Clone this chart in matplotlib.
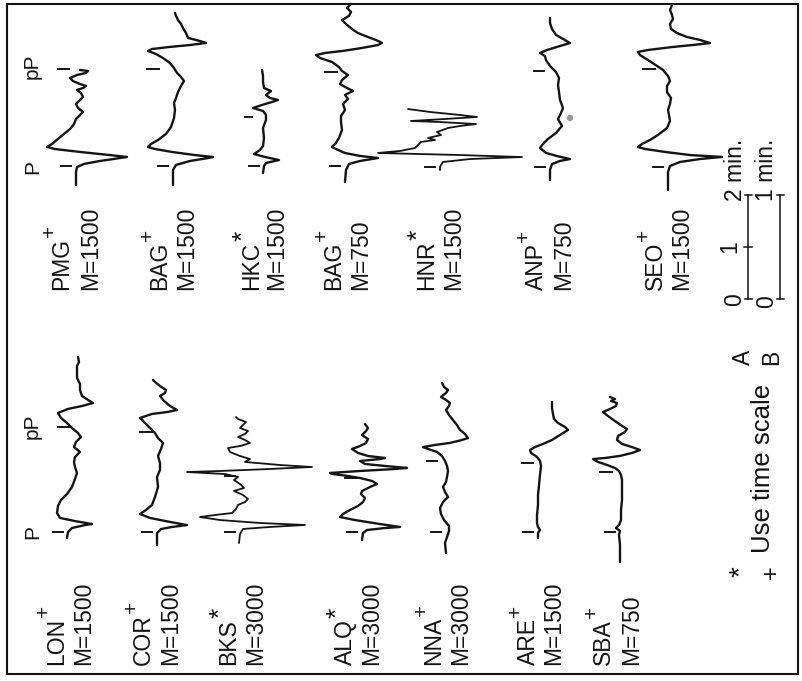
import matplotlib
matplotlib.use("Agg")
import matplotlib.pyplot as plt
from matplotlib.patches import Rectangle, Circle

# ---------------------------------------------------------------------------
# Station records: time after P onset (s) and trace deflection (arbitrary units)
# ---------------------------------------------------------------------------
PMG_T = [-11.0, -3.5, -0.6, 1.2, 2.9, 4.6, 5.2, 6.3, 8.1, 9.8, 11.0, 12.7, 15.6, 18.5, 21.3, 24.2,
         27.1, 29.4, 31.2, 33.5, 35.8, 38.1, 39.8, 42.1, 43.9, 45.0, 46.2, 47.3, 49.0, 50.8, 52.5,
         53.7, 54.8, 55.4]
PMG_A = [0, 0, 1, 8, 24, 44, 51, 34, 4, -21, -29, -24, -18, -12, -6, -2,
         0, 4, 7, 2, 0, 4, 7, 5, 1, 7, 10, 4, -3, -6, 1,
         10, 12, 4]

BAG1_T = [-11.0, -2.3, 0.6, 2.9, 4.6, 5.2, 6.3, 8.1, 9.8, 11.0, 12.7, 15.0, 18.5, 22.5, 27.7, 32.3,
          36.4, 39.2, 42.7, 46.2, 49.0, 51.4, 53.7, 56.5, 59.4, 62.3, 64.6, 66.4, 67.5, 68.7, 69.8,
          71.0, 72.1, 73.9, 76.7, 79.6, 81.9, 84.2, 86.6, 88.3]
BAG1_A = [0, 0, 3, 17, 35, 40, 22, -1, -18, -25, -22, -15, -7, -2, 1, 2,
          1, 3, 5, 8, 11, 8, 4, 1, -3, -10, -17, -25, -21, -3, 17,
          33, 27, 15, 13, 10, 8, 5, 3, 2]

HKC_T = [-8.1, 0.0, 3.5, 6.9, 10.4, 13.8, 18.5, 23.1, 32.3, 43.9, 53.1, 58.9, 63.5, 66.9, 70.4,
         73.9, 76.2, 78.5, 81.9, 86.5, 90.0, 96.9, 103.9, 110.8]
HKC_A = [-1, 0, 2, 15, 1, -10, -4, -1, 0, -1, 2, 2, -1, -11, -2,
         8, 14, 6, 2, 7, 0, -1, -1, -2]

BAG2_T = [-9.2, -2.3, 1.2, 2.9, 4.6, 5.8, 7.5, 9.8, 11.0, 13.3, 16.2, 20.8, 25.4, 28.9, 32.3,
          35.8, 38.7, 41.0, 43.3, 45.0, 47.3, 49.6, 52.5, 54.8, 57.1, 60.0, 62.3, 64.0, 65.2,
          66.4, 68.1, 69.8, 71.0, 72.7, 74.4, 76.7, 79.0, 81.9, 84.2, 86.6, 88.9, 91.2, 93.5]
BAG2_A = [0, 1, 4, 15, 33, 15, 0, -9, -13, -9, -6, -3, -4, -4, 0,
          -2, 3, 0, 8, 2, -5, -3, 3, -3, -6, -13, -25, -29, -20,
          -2, 17, 33, 37, 31, 23, 13, 7, 1, -3, 4, 6, 2, 6]

HNR_T = [-3.5, 0.0, 2.3, 5.8, 9.2, 11.5, 13.8, 16.2, 18.5, 21.9, 25.4, 28.9, 31.2, 33.5, 36.9,
         40.4, 45.0, 47.3, 49.6, 51.9, 53.1, 55.4, 57.7, 60.0, 63.5, 66.9]
HNR_A = [0, 0, 1, 3, 30, 82, 20, -62, -40, -25, -22, -19, -5, -12, 1,
         -3, 8, 20, 36, 0, -29, 5, 37, 20, -10, -32]

ANP_T = [-7.5, -1.7, 1.7, 3.5, 4.6, 6.3, 8.1, 11.0, 13.3, 16.2, 19.6, 23.7, 27.7, 31.2, 34.0,
         38.7, 43.3, 47.3, 51.4, 54.8, 58.3, 61.7, 64.0, 65.8, 67.5, 69.8, 71.5, 73.9, 76.2,
         79.6, 83.1, 86.0]
ANP_A = [0, 0, 2, 10, 20, 7, -4, -10, -7, -2, 6, 12, 8, 11, 13,
         10, 9, 8, 9, 6, 0, -4, -5, -10, -3, 10, 20, 13, 6,
         2, 0, 0]

SEO_T = [-13.3, -2.9, 0.6, 2.9, 4.6, 5.8, 6.9, 8.7, 10.4, 11.5, 13.3, 15.6, 18.5, 22.5, 26.5,
         30.0, 32.9, 36.4, 39.8, 43.3, 46.7, 49.6, 52.5, 56.0, 58.3, 61.7, 64.6, 66.4, 67.5,
         69.2, 70.4, 71.5, 73.3, 75.0, 77.3, 79.6, 82.5, 85.4, 87.7, 90.6, 93.5]
SEO_A = [0, 0, 2, 12, 32, 54, 22, -3, -23, -30, -26, -18, -10, -1, 2,
         1, 0, 2, 3, -1, -1, 2, 0, -5, -11, -20, -28, -30, -20,
         4, 25, 42, 32, 19, 9, 3, 2, 5, 4, 2, 4]

LON_T = [-3.5, 0.0, 2.3, 4.0, 4.6, 6.3, 8.1, 11.0, 15.0, 18.5, 21.9, 26.0, 30.6, 34.0, 37.5,
         40.4, 43.3, 46.2, 49.0, 51.9, 54.8, 57.1, 60.0, 62.9, 65.8, 68.7, 71.0, 72.7, 74.4,
         76.2, 78.5, 81.9, 85.4, 88.9, 92.3, 95.8, 98.1, 101.0]
LON_A = [-1, 0, 4, 17, 24, 7, -8, -11, -10, -7, -1, 4, 7, 9, 7,
         6, 7, 12, 6, 8, 13, 10, 4, -1, -7, -10, 0, 14, 25,
         20, 14, 12, 12, 9, 9, 9, 11, 10]

COR_T = [-7.5, -0.6, 1.7, 2.9, 4.0, 5.8, 8.1, 10.4, 12.7, 15.6, 20.2, 26.0, 31.7, 35.8, 39.8,
         43.9, 47.9, 51.4, 54.2, 57.1, 60.0, 62.9, 65.8, 68.1, 69.2, 70.4, 72.7, 75.6, 78.5,
         80.2, 81.9, 84.2, 86.6, 87.7]
COR_A = [0, 0, 4, 15, 30, 13, -7, -17, -11, -5, -2, 1, 0, 3, 3,
         1, 4, 6, 1, -2, -7, -12, -17, -5, 10, 20, 13, 7, 3,
         8, 9, 3, -2, -4]

BKS_T = [-12.7, -2.3, 3.5, 5.8, 8.1, 10.4, 13.8, 17.3, 19.6, 21.9, 26.5, 31.2, 34.6, 38.1, 42.7,
         47.3, 50.8, 55.4, 60.0, 63.5, 66.9, 69.2, 70.4, 72.7, 75.0, 77.3, 80.8, 84.2, 87.7,
         92.3, 96.9, 99.2, 102.7, 106.2, 109.6, 113.1, 116.5, 120.0, 123.5, 126.9, 130.4, 132.7]
BKS_A = [-1, 0, 3, 30, 65, 20, -20, -40, -25, -8, -4, -2, 5, 8, 3,
         -6, 4, 0, -6, -2, -15, -53, -20, 30, 72, 40, 5, 10, 0,
         -10, -12, 0, 10, 5, -2, 5, 8, 0, 3, 6, -2, -4]

ALQ_T = [-9.2, -1.2, 2.3, 4.6, 5.8, 9.2, 13.8, 17.3, 20.8, 25.4, 30.0, 34.6, 39.2, 43.9, 47.3,
         51.9, 55.4, 58.9, 62.3, 64.6, 66.9, 68.1, 70.4, 72.7, 73.9, 76.2, 78.5, 81.9, 84.2,
         85.4, 87.7, 91.2, 95.8, 99.2, 102.7, 107.3, 111.9, 116.5, 120.0, 124.6]
ALQ_A = [0, 1, 5, 23, 38, 18, -7, -22, -19, -12, -4, 1, 3, -1, 0,
         8, 15, 10, -2, -14, -29, -32, -2, 33, 45, 23, 3, -2, 18,
         23, 6, -4, -10, -2, 4, 6, 0, 4, 6, 3]

NNA_T = [-12.1, -6.3, -2.9, 0.6, 3.5, 6.9, 10.4, 13.8, 17.3, 20.2, 23.1, 26.0, 28.9, 31.7, 35.2,
         38.1, 41.0, 43.9, 46.2, 47.9, 49.0, 50.2, 51.4, 53.1, 54.2, 56.5, 58.9, 61.7, 64.6,
         67.5, 70.4, 72.7, 74.4, 76.2, 77.9, 80.2, 81.9, 83.7, 86.0]
NNA_A = [0, -1, 1, 3, 3, -2, -5, -6, -3, 2, -1, -3, 0, 1, 2,
         1, -1, -4, -9, -18, -23, -11, 4, 16, 22, 19, 14, 11, 7,
         3, 0, 3, 4, 0, -5, 0, 2, -2, -4]

ARE_T = [-3.5, -0.6, 1.2, 2.9, 5.2, 9.8, 15.6, 21.3, 27.1, 32.9, 38.1, 41.0, 43.3, 45.6, 47.3,
         49.0, 50.8, 53.1, 56.0, 58.9, 60.6, 62.9, 65.2, 68.1, 71.5, 75.0]
ARE_A = [0, 0, 2, 0, -1, -1, 0, 0, 1, 2, 3, 2, -1, -7, -8,
         -3, 5, 14, 22, 30, 27, 20, 16, 15, 14, 14]

SBA_T = [-17.3, -7.5, -1.7, 0.6, 2.3, 4.0, 6.9, 12.7, 18.5, 24.2, 30.0, 32.9, 35.2, 36.9, 38.7,
         40.4, 42.1, 42.7, 43.9, 45.6, 47.3, 49.0, 50.8, 53.1, 55.4, 57.7, 59.4, 61.2, 64.0,
         66.9, 69.2, 71.0, 72.7, 74.4, 75.6, 76.7, 77.9]
SBA_A = [0, 0, -1, 0, -4, -1, 1, 1, 2, 2, 2, 1, -1, -5, -13,
         -22, -27, -15, 0, 12, 20, 12, 2, -3, -2, 5, 7, 2, -5,
         -12, -17, -10, -4, -3, -9, -5, -10]

# station code, time-scale marker, magnification, pP pick (s after P, None if not marked)
STATIONS = ["PMG", "BAG", "HKC", "BAG", "HNR", "ANP", "SEO",
            "LON", "COR", "BKS", "ALQ", "NNA", "ARE", "SBA"]
SCALE_MARK = ["+", "+", "*", "+", "*", "+", "+",
              "+", "+", "*", "*", "+", "+", "+"]
MAGNIFICATION = [1500, 1500, 1500, 750, 1500, 750, 1500,
                 1500, 1500, 3000, 3000, 3000, 1500, 750]
PP_PICK = [56.0, 56.0, 56.5, 54.2, None, 55.4, 56.5,
           60.6, 57.7, 64.6, 62.3, 41.0, 39.8, 34.6]
TRACE_T = [PMG_T, BAG1_T, HKC_T, BAG2_T, HNR_T, ANP_T, SEO_T,
           LON_T, COR_T, BKS_T, ALQ_T, NNA_T, ARE_T, SBA_T]
TRACE_A = [PMG_A, BAG1_A, HKC_A, BAG2_A, HNR_A, ANP_A, SEO_A,
           LON_A, COR_A, BKS_A, ALQ_A, NNA_A, ARE_A, SBA_A]

# ---------------------------------------------------------------------------
# Page layout (page units, time runs up the page)
# ---------------------------------------------------------------------------
PX_PER_MIN = {"*": 52.0, "+": 104.0}   # scale A and scale B
GAIN = 1.0
BASELINE_X = [76, 173, 264, 345, 440, 550, 668,
              68, 157, 240, 362, 446, 538, 620]
ONSET_Y = [166, 166, 166, 166, 167, 167, 167,
           532, 532, 532, 532, 532, 532, 532]
PP_TICK_OFF = [(-18, -7), (-26, -14), (-19, -12), (-20, -8), None, (-16, -6), (-25, -13),
               (-10, 2), (-17, -5), (-15, -5), (-17, -5), (-19, -9), (-16, -5), (-20, -8)]
NAME_X = [68, 166, 258, 340, 433, 543, 662,
          63, 150, 235, 352, 440, 535, 610]
MAG_X = [97, 193, 283, 367, 460, 570, 688,
         90, 177, 262, 378, 467, 560, 638]
LABEL_Y = [290] * 7 + [665] * 7

INK = "#141414"
FONT = "Liberation Sans"
FS = 16.5

fig = plt.figure(figsize=(8.02, 6.81), dpi=100)
ax = fig.add_axes([0, 0, 1, 1])
ax.set_xlim(0, 802)
ax.set_ylim(681, 0)
ax.axis("off")

ax.add_patch(Rectangle((7, 4), 791, 670, fill=False, lw=1.5, ec=INK))


def rot_text(x, y, s, size=FS, ha="left", va="baseline"):
    return ax.text(x, y, s, rotation=90, rotation_mode="anchor", ha=ha, va=va,
                   fontsize=size, color=INK, family=FONT)


renderer = fig.canvas.get_renderer()
inv = ax.transData.inverted()

for i, name in enumerate(STATIONS):
    pps = PX_PER_MIN[SCALE_MARK[i]] / 60.0
    x0, y0 = BASELINE_X[i], ONSET_Y[i]
    xs = [x0 + a * GAIN for a in TRACE_A[i]]
    ys = [y0 - t * pps for t in TRACE_T[i]]
    lw = 1.3 if name in ("HNR", "BKS") else 1.7
    ax.plot(xs, ys, color=INK, lw=lw, solid_joinstyle="round", solid_capstyle="round")
    # onset and pP picks
    ax.plot([x0 - 15, x0 - 5], [y0, y0], color=INK, lw=1.4)
    if PP_PICK[i] is not None:
        ypp = y0 - PP_PICK[i] * pps
        o1, o2 = PP_TICK_OFF[i]
        ax.plot([x0 + o1, x0 + o2], [ypp, ypp], color=INK, lw=1.4)
    # station code with raised time-scale marker
    t = rot_text(NAME_X[i], LABEL_Y[i], name)
    bb = t.get_window_extent(renderer=renderer)
    end_y = inv.transform((bb.x0, bb.y1))[1]
    if SCALE_MARK[i] == "*":
        rot_text(NAME_X[i] - 15, end_y - 1, "*", size=19, va="center")
    else:
        rot_text(NAME_X[i] - 19, end_y - 1, "+", size=15, va="center")
    rot_text(MAG_X[i], LABEL_Y[i], "M=%d" % MAGNIFICATION[i])

# grey spot on the ANP record
anp = STATIONS.index("ANP")
ax.add_patch(Circle((BASELINE_X[anp] + 20, ONSET_Y[anp] - 28.3 * PX_PER_MIN["+"] / 60.0),
                    3.2, color="#9a9a9a", lw=0))

# phase labels
for yp, ypp in ((174, 79), (539, 439)):
    rot_text(38, yp, "P", size=15)
    rot_text(38, ypp, "pP", size=15)

# time scales A (2 min) and B (1 min)
BAR_Y0 = 299
for bx, minutes, pxm in ((748, 2, PX_PER_MIN["*"]), (780, 1, PX_PER_MIN["+"])):
    top = BAR_Y0 - minutes * pxm
    ax.plot([bx, bx], [BAR_Y0, top], color=INK, lw=1.1)
    for yy in (BAR_Y0, top):
        ax.plot([bx - 3.5, bx + 3.5], [yy, yy], color=INK, lw=1.1)
ax.plot([744, 752], [BAR_Y0 - PX_PER_MIN["*"]] * 2, color=INK, lw=1.1)
rot_text(741, 300, "0", ha="center")
rot_text(736, BAR_Y0 - PX_PER_MIN["*"], "1", ha="center")
rot_text(742, 201, "2 min.")
rot_text(773, 302, "0", ha="center")
rot_text(773, 201, "1 min.")

# time-scale key
rot_text(741, 572, "*", size=20, ha="center", va="center")
rot_text(772, 572, "+", size=17, ha="center", va="center")
rot_text(770, 553, "Use time scale", size=18.5)
rot_text(750, 357, "A", ha="center")
rot_text(778, 357, "B", ha="center")

fig.savefig("out.png", dpi=100, facecolor="white")
